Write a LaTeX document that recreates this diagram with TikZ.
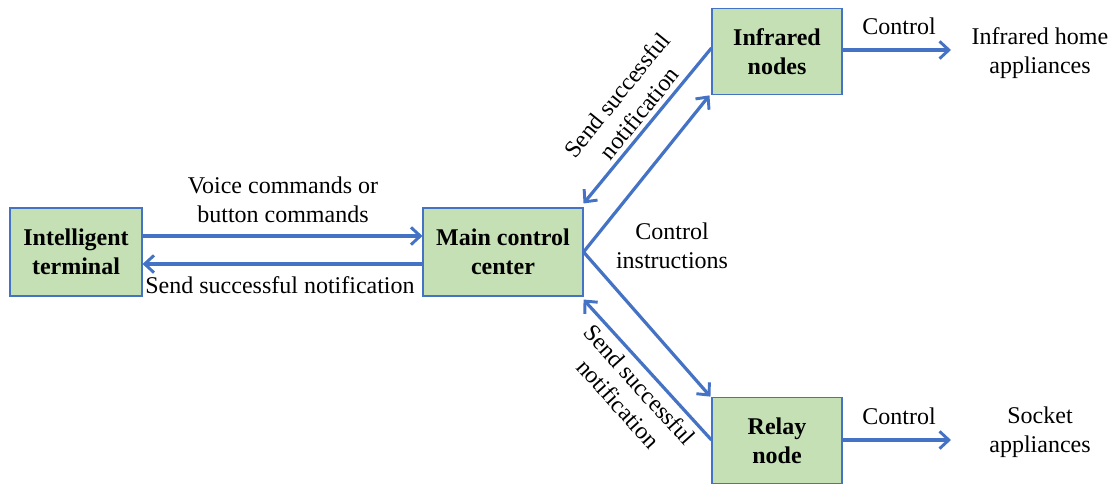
\documentclass[tikz,border=0pt]{standalone}
\usepackage{fontspec}
\setmainfont{Liberation Serif}
\usetikzlibrary{arrows.meta}
\definecolor{boxfill}{HTML}{C5E0B4}
\definecolor{linkblue}{HTML}{4472C4}
\begin{document}
\begin{tikzpicture}[x=0.75pt,y=-0.75pt,
  unit/.style={draw=linkblue,line width=0.8pt,fill=boxfill,inner sep=0pt,
    align=center,font=\fontsize{18}{21.5}\selectfont\bfseries},
  link/.style={draw=linkblue,line width=2.4pt,
    -{Straight Barb[length=7pt,width=13pt,line width=2.2pt]}},
  lbl/.style={align=center,font=\fontsize{18}{21.5}\selectfont,inner sep=0pt}]
\useasboundingbox (0,0) rectangle (1115,483);

% main blocks
\node[unit,minimum width=99pt,minimum height=66pt] (term) at (76,252) {Intelligent\\terminal};
\node[unit,minimum width=120pt,minimum height=66pt] (mcc) at (503,252) {Main control\\center};
\node[unit,minimum width=97.5pt,minimum height=65pt] (ir) at (777,51.5) {Infrared\\nodes};
\node[unit,minimum width=97.5pt,minimum height=65pt] (relay) at (777,440.5) {Relay\\node};

% free ends of the output arrows
\coordinate (irout) at (951,50);
\coordinate (relayout) at (951,440);

% terminal <-> control center
\draw[link] (term.east |- 0,236) -- (mcc.west |- 0,236);
\draw[link] (mcc.west |- 0,264) -- (term.east |- 0,264);

% control center <-> infrared nodes
\draw[link] (mcc.east) -- ([shift={(-2,0)}]ir.south west);
\draw[link] (ir.west |- 0,48) -- ([shift={(0,-4)}]mcc.north east);

% control center <-> relay node
\draw[link] (mcc.east) -- ([shift={(-1,0)}]relay.north west);
\draw[link] (relay.west |- 0,440) -- ([shift={(0,3)}]mcc.south east);

% outputs
\draw[link] (ir.east |- irout) -- (irout);
\draw[link] (relay.east |- relayout) -- (relayout);

% labels
\node[lbl] (lvoice) at (283,200) {Voice commands or\\button commands};
\node[lbl] (lsend) at (280,285) {Send successful notification};
\node[lbl] (lctrl) at (672,246) {Control\\instructions};
\node[lbl] (lc1) at (899,26) {Control};
\node[lbl] (lc2) at (899,416) {Control};
\node[lbl] (lapp1) at (1040,53) {Infrared home\\appliances};
\node[lbl] (lapp2) at (1040,432) {Socket\\appliances};
\node[lbl,rotate=51] (lup) at (628,104) {Send successful\\notification};
\node[lbl,rotate=-48] (ldown) at (629,394) {Send successful\\notification};
\end{tikzpicture}
\end{document}
